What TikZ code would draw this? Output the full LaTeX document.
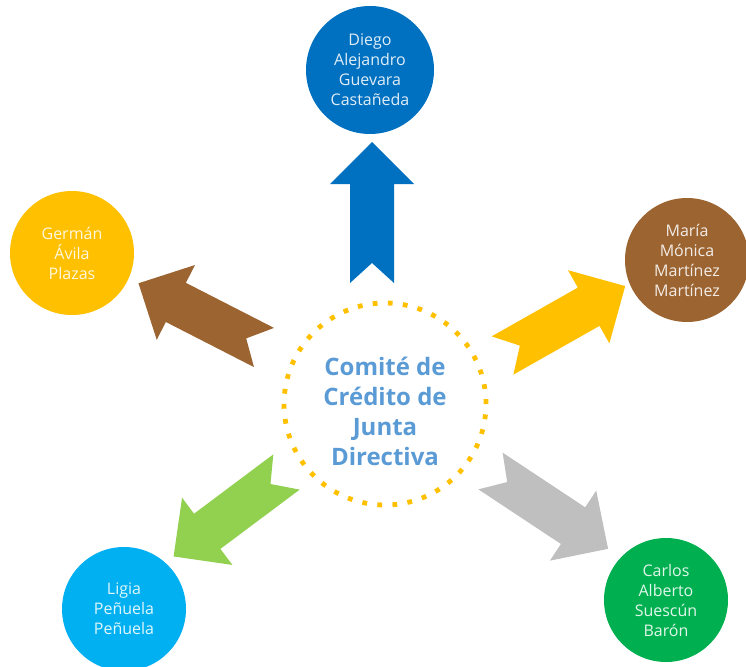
\documentclass[tikz,border=0pt]{standalone}
\usepackage{fontspec}
\setmainfont{Open Sans}
\usetikzlibrary{calc}
\definecolor{cblue}{HTML}{0070C0}
\definecolor{cbrown}{HTML}{9C6431}
\definecolor{cgold}{HTML}{FFC000}
\definecolor{csky}{HTML}{00B0F0}
\definecolor{cgreen}{HTML}{00B050}
\definecolor{clime}{HTML}{92D050}
\definecolor{cgray}{HTML}{BFBFBF}
\definecolor{ctitle}{HTML}{5B9BD5}
\newcommand{\blockarr}[3]{%
  \fill[#1,shift={(#2)},rotate=#3] (20,0) -- (0,22) -- (99,22) -- (99,42) -- (141,0) -- (99,-42) -- (99,-22) -- (0,-22) -- cycle;}
\tikzset{
  person/.style={circle, fill=#1, text=white!88!#1, minimum size=93pt, inner sep=0pt,
    align=center, font=\fontsize{12}{15}\selectfont},
  hubring/.style={circle, draw=cgold, line width=3.6pt, dash pattern=on 3.6pt off 7.73pt,
    minimum size=151.5pt, inner sep=0pt},
  titletext/.style={align=center, text=ctitle, font=\bfseries\fontsize{18}{22.5}\selectfont}
}
\begin{document}
\begin{tikzpicture}[x=0.75pt,y=-0.75pt]
\useasboundingbox (0,0) rectangle (746,667);
% hub
\node[hubring] (hub) at (385,404) {};
\node[titletext] (title) at (385,411) {Comité de\\Crédito de\\Junta\\Directiva};
% people
\node[person=cblue, minimum size=96pt] (diego) at (370,70) {Diego\\Alejandro\\Guevara\\Castañeda};
\node[person=cbrown] (maria) at (687,260) {María\\Mónica\\Martínez\\Martínez};
\node[person=cgold] (german) at (72,253) {Germán\\Ávila\\Plazas};
\node[person=csky] (ligia) at (124,609) {Ligia\\Peñuela\\Peñuela};
\node[person=cgreen] (carlos) at (666,600) {Carlos\\Alberto\\Suescún\\Barón};
% arrow tails
\coordinate (tA) at (372,283);
\coordinate (tB) at (502.5,355.5);
\coordinate (tC) at (264,347.5);
\coordinate (tD) at (286.5,472);
\coordinate (tE) at (490.5,471);
\blockarr{cblue}{tA}{90}
\blockarr{cgold}{tB}{29.5}
\blockarr{cbrown}{tC}{152.9}
\blockarr{clime}{tD}{216.8}
\blockarr{cgray}{tE}{-33.5}
\end{tikzpicture}
\end{document}
